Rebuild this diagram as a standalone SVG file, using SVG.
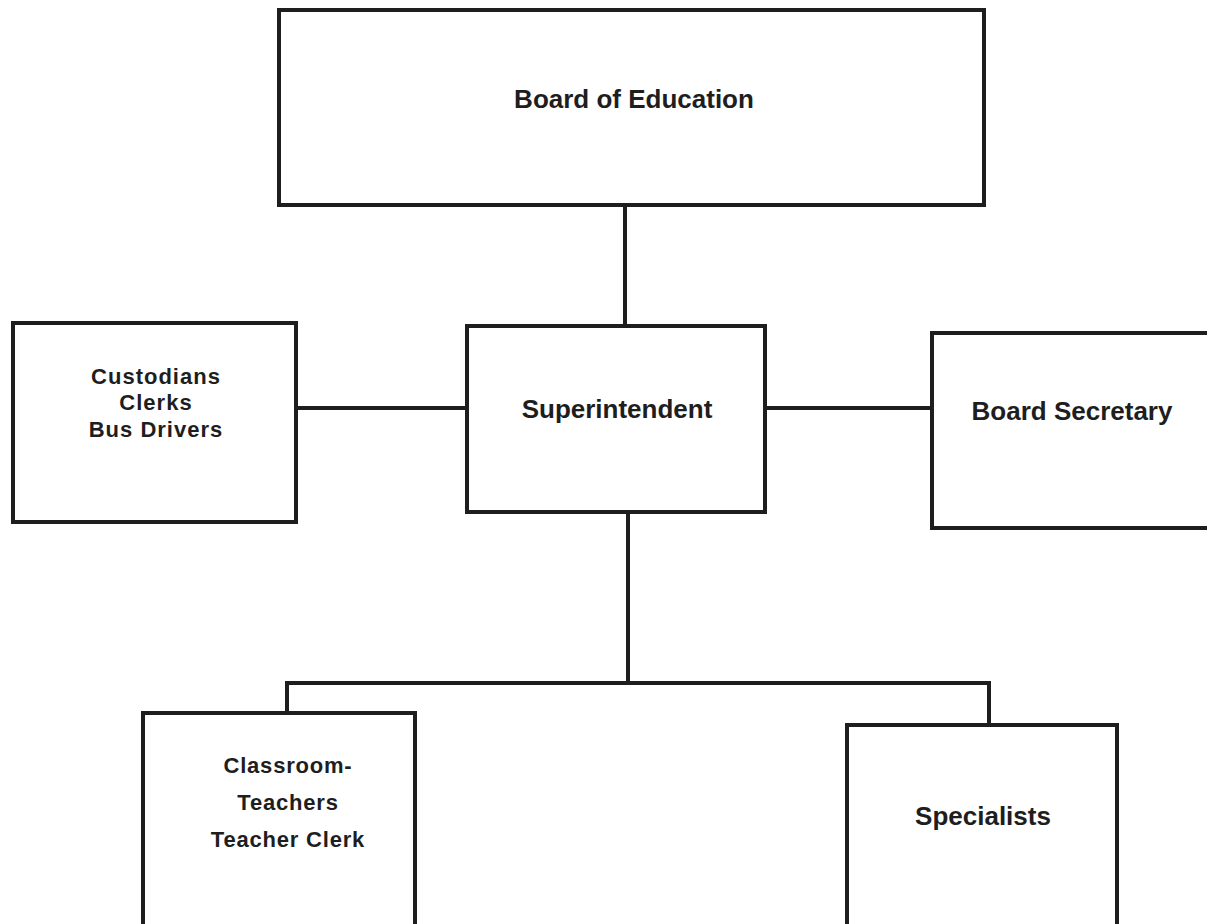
<svg xmlns="http://www.w3.org/2000/svg" width="1207" height="924" viewBox="0 0 1207 924">
  <style>
    .box { fill: #ffffff; stroke: #1e1e1e; stroke-width: 4; }
    .link { fill: none; stroke: #1e1e1e; stroke-width: 4; }
    .label { font-family: "Liberation Sans", Arial, sans-serif; font-weight: bold; font-size: 26px; fill: #1e1e1e; text-anchor: middle; }
    .small { font-size: 22px; letter-spacing: 1px; }
  </style>
  <rect width="1207" height="924" fill="#ffffff"/>

  <!-- connectors -->
  <g id="connectors">
    <line class="link" x1="625" y1="205" x2="625" y2="326"/>
    <line class="link" x1="296" y1="408" x2="466" y2="408"/>
    <line class="link" x1="765" y1="408" x2="932" y2="408"/>
    <line class="link" x1="628" y1="512" x2="628" y2="683"/>
    <polyline class="link" points="287,713 287,683 989,683 989,725"/>
  </g>

  <g id="board-of-education">
    <rect class="box" x="279" y="10" width="705" height="195"/>
    <text class="label" x="634" y="108" font-size="27">Board of Education</text>
  </g>

  <g id="superintendent">
    <rect class="box" x="467" y="326" width="298" height="186"/>
    <text class="label" x="617" y="418" font-size="28">Superintendent</text>
  </g>

  <g id="support-staff">
    <rect class="box" x="13" y="323" width="283" height="199"/>
    <text class="label small" x="156" y="384">Custodians</text>
    <text class="label small" x="156" y="410">Clerks</text>
    <text class="label small" x="156" y="437">Bus Drivers</text>
  </g>

  <g id="board-secretary">
    <rect class="box" x="932" y="333" width="290" height="195"/>
    <text class="label" x="1072" y="420">Board Secretary</text>
  </g>

  <g id="classroom-teachers">
    <rect class="box" x="143" y="713" width="272" height="230"/>
    <text class="label small" x="288" y="773" style="letter-spacing:0.8px">Classroom-</text>
    <text class="label small" x="288" y="810" style="letter-spacing:0.8px">Teachers</text>
    <text class="label small" x="288" y="847" style="letter-spacing:0.8px">Teacher Clerk</text>
  </g>

  <g id="specialists">
    <rect class="box" x="847" y="725" width="270" height="220"/>
    <text class="label" x="983" y="825">Specialists</text>
  </g>
</svg>
